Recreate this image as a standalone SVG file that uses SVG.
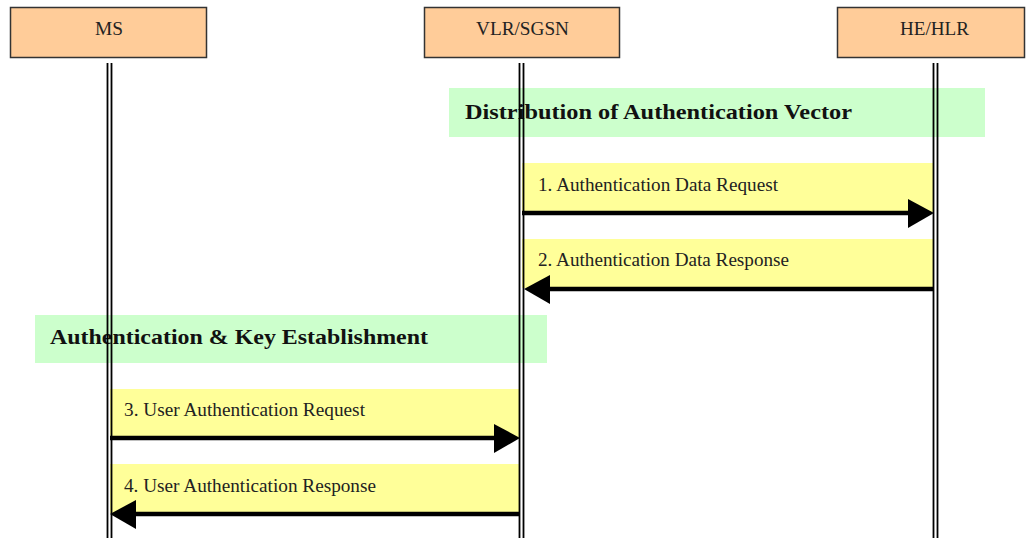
<svg xmlns="http://www.w3.org/2000/svg" width="1026" height="538" viewBox="0 0 1026 538">
<style>
.actor{fill:#FFCC99;stroke:#333;stroke-width:1.5}
.alab{font-family:"Liberation Serif",serif;font-size:18px;fill:#222;text-anchor:middle}
.band{fill:#CCFFCC}
.blab{font-family:"Liberation Serif",serif;font-size:22px;font-weight:bold;fill:#111}
.msg{fill:#FFFF99}
.mlab{font-family:"Liberation Serif",serif;font-size:18px;fill:#222}
.life{stroke:#000;stroke-width:1.8;fill:none}
.arr{stroke:#000;stroke-width:4.5;fill:none}
.head{fill:#000}
</style>
<rect width="1026" height="538" fill="#fff"/>
<g id="MS"><rect class="actor" x="10.5" y="7.5" width="196" height="50"/><text class="alab" x="109" y="35" textLength="28" lengthAdjust="spacingAndGlyphs">MS</text></g>
<g id="VLR"><rect class="actor" x="424.5" y="7.5" width="195" height="50"/><text class="alab" x="522.5" y="35" textLength="93" lengthAdjust="spacingAndGlyphs">VLR/SGSN</text></g>
<g id="HLR"><rect class="actor" x="837.5" y="7.5" width="187" height="50"/><text class="alab" x="934.5" y="35" textLength="69" lengthAdjust="spacingAndGlyphs">HE/HLR</text></g>
<g id="band1"><rect class="band" x="449" y="88" width="536" height="49"/><text class="blab" x="465" y="119" textLength="387" lengthAdjust="spacingAndGlyphs">Distribution of Authentication Vector</text></g>
<g id="band2"><rect class="band" x="35" y="315" width="512" height="48"/><text class="blab" x="50" y="344" textLength="378" lengthAdjust="spacingAndGlyphs">Authentication &amp; Key Establishment</text></g>
<g id="m1"><rect class="msg" x="522" y="163" width="412" height="49"/><text class="mlab" x="538" y="191" textLength="240" lengthAdjust="spacingAndGlyphs">1. Authentication Data Request</text></g>
<g id="m2"><rect class="msg" x="522" y="239" width="412" height="49"/><text class="mlab" x="538" y="266" textLength="251" lengthAdjust="spacingAndGlyphs">2. Authentication Data Response</text></g>
<g id="m3"><rect class="msg" x="110" y="389" width="410" height="49"/><text class="mlab" x="124" y="416" textLength="241" lengthAdjust="spacingAndGlyphs">3. User Authentication Request</text></g>
<g id="m4"><rect class="msg" x="110" y="464" width="410" height="49"/><text class="mlab" x="124" y="492" textLength="252" lengthAdjust="spacingAndGlyphs">4. User Authentication Response</text></g>
<g id="lifelines">
<path class="life" d="M107.5 63V538M111.5 63V538M519.5 63V538M523.5 63V538M933.5 63V538M937.5 63V538"/>
</g>
<g id="connectors">
<path class="arr" d="M522 213H910"/><polygon class="head" points="908,199 934,213 908,228"/>
<path class="arr" d="M934 289H548"/><polygon class="head" points="550,275 524,289 550,304"/>
<path class="arr" d="M110 438H496"/><polygon class="head" points="494,424 520,438 494,453"/>
<path class="arr" d="M520 514H134"/><polygon class="head" points="136,500 110,514 136,529"/>
</g>
</svg>
